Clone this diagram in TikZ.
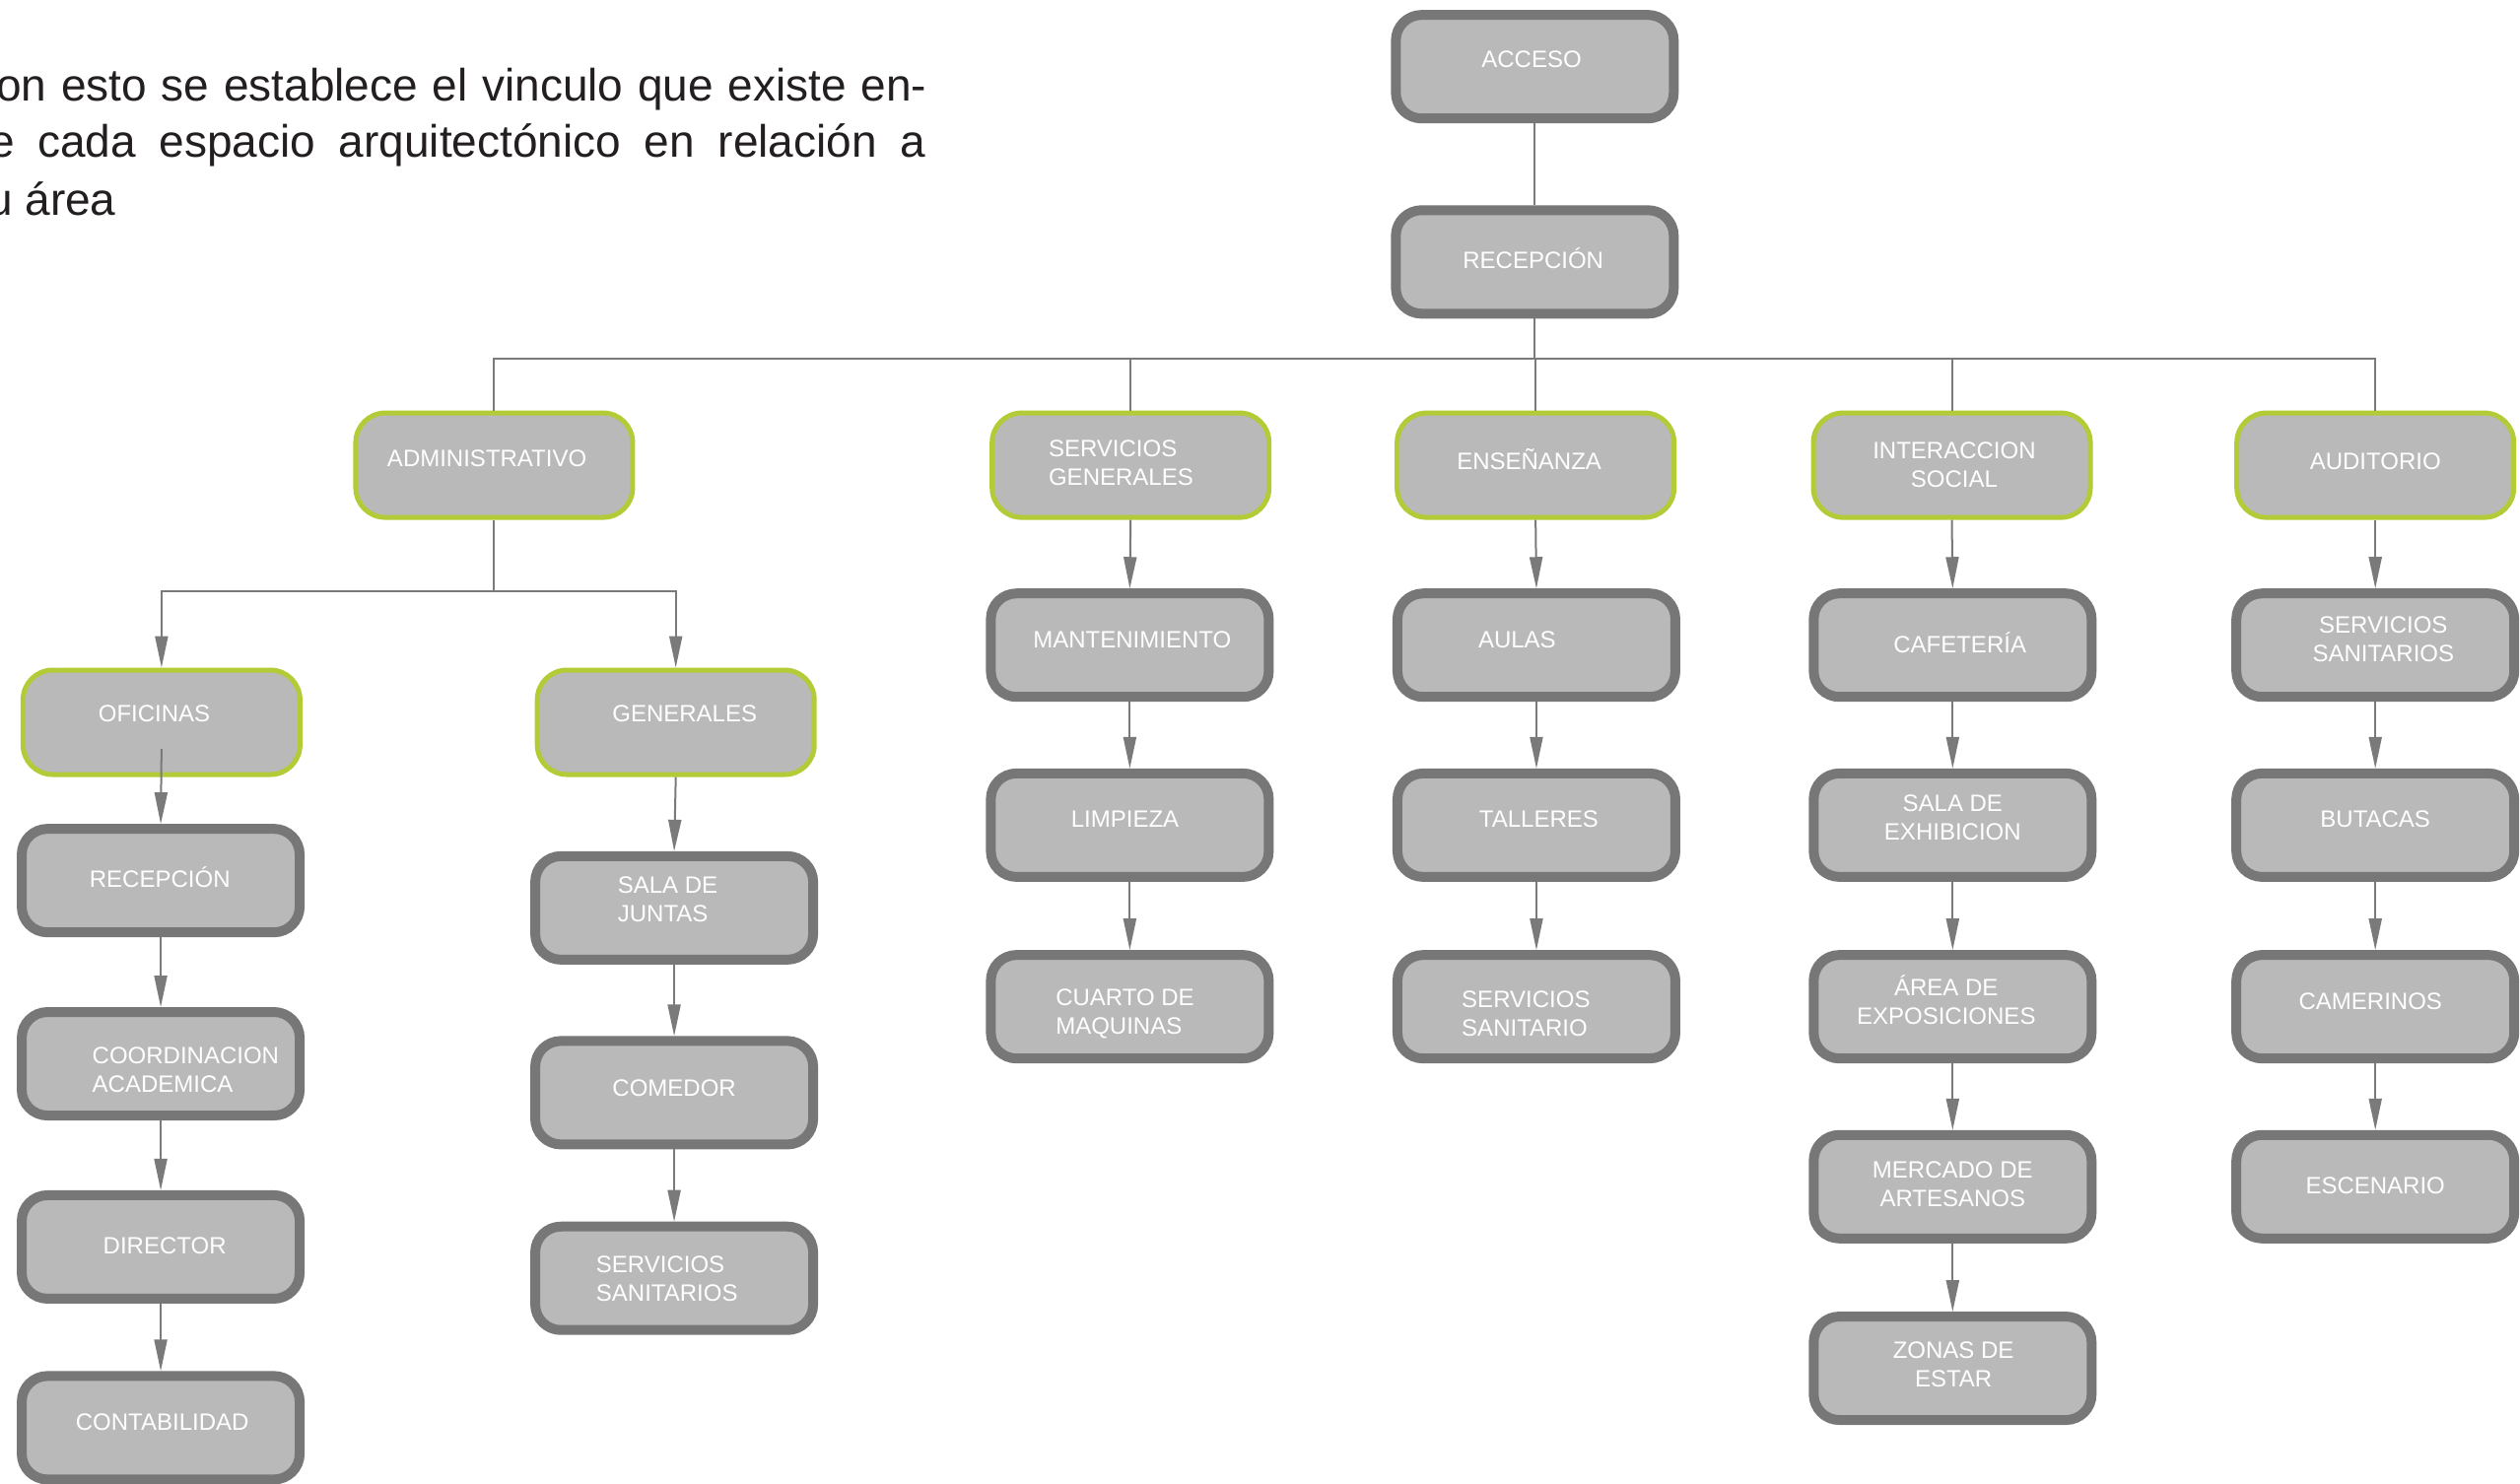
\documentclass[tikz,border=0pt]{standalone}
\usepackage{fontspec}
\setmainfont{Liberation Sans}
\usetikzlibrary{arrows.meta,calc}
\definecolor{boxfill}{HTML}{B9B9B9}
\definecolor{boxline}{HTML}{777777}
\definecolor{greenline}{HTML}{B3CB37}
\definecolor{connc}{HTML}{7A7A7A}
\definecolor{paratext}{HTML}{231F20}
\tikzset{
  graybox/.style={draw=boxline, line width=10pt, fill=boxfill, rounded corners=26pt,
    minimum width=282pt, minimum height=105pt, inner sep=0pt},
  greenbox/.style={draw=greenline, line width=5pt, fill=boxfill, rounded corners=30pt,
    minimum width=281pt, minimum height=106pt, inner sep=0pt},
  lbl/.style={text=white, font=\fontsize{24}{29}\selectfont, inner sep=0pt},
  para/.style={text=paratext, font=\fontsize{46}{57}\selectfont, inner sep=0pt, anchor=base west},
  conn/.style={draw=connc, line width=2pt},
  arr/.style={conn, -{Triangle[length=32pt,width=13pt]}},
  arrg/.style={conn, -{Triangle[length=32pt,width=13pt]}},
}
% style, name, x, y, dx, dy, align, text
\newcommand\bx[8]{%
  \node[#1] (#2) at (#3,#4) {};
  \node[lbl, align=#7] (#2t) at ($(#2.center)+(#5,#6)$) {#8};}
\begin{document}
\begin{tikzpicture}[x=1.6307pt, y=-1.6307pt]
\useasboundingbox (0pt,0pt) rectangle (2557pt,-1505pt);

% paragraph
\node[para] (p1) at (-4pt,-102.7pt) {\makebox[944pt][s]{on esto se establece el vinculo que existe en-}};
\node[para] (p2) at (-11pt,-159pt) {\makebox[950pt][s]{e cada espacio arquitectónico en relación a}};
\node[para] (p3) at (-13pt,-218pt) {u área};

% top
\bx{graybox}{acc}{955}{41.5}{-2}{-4.5}{center}{ACCESO}
\bx{graybox}{rec}{955}{163}{-1}{-2}{center}{RECEPCIÓN}

% level 2
\bx{greenbox}{adm}{307.5}{289.5}{-4.5}{-4.5}{center}{ADMINISTRATIVO}
\bx{greenbox}{sg}{703.5}{289.5}{-6}{-1.5}{left}{SERVICIOS\\GENERALES}
\bx{greenbox}{ens}{955.5}{289.5}{-4}{-3.5}{center}{ENSEÑANZA}
\bx{greenbox}{inte}{1214.5}{289.5}{1.5}{0}{center}{INTERACCION\\SOCIAL}
\bx{greenbox}{aud}{1478}{289.5}{0}{-2.5}{center}{AUDITORIO}

% level 3 (administrativo)
\bx{greenbox}{ofi}{100.5}{449.5}{-4.5}{-5.5}{center}{OFICINAS}
\bx{greenbox}{gen}{420.5}{449.5}{5.5}{-5.5}{center}{GENERALES}

% oficinas column
\bx{graybox}{orec}{100}{548}{-0.5}{-2}{center}{RECEPCIÓN}
\bx{graybox}{ocoo}{100}{662}{15.5}{4}{left}{COORDINACION\\ACADEMICA}
\bx{graybox}{odir}{100}{776}{2.5}{-1}{center}{DIRECTOR}
\bx{graybox}{ocon}{100}{888.5}{1}{-3.5}{center}{CONTABILIDAD}

% generales column
\bx{graybox}{gsal}{419.5}{565}{-4}{-5.5}{left}{SALA DE\\JUNTAS}
\bx{graybox}{gcom}{419.5}{680}{0}{-3}{center}{COMEDOR}
\bx{graybox}{gser}{419.5}{795.5}{-4.5}{0.5}{left}{SERVICIOS\\SANITARIOS}

% servicios generales column
\bx{graybox}{sman}{703}{401.5}{1.5}{-3.5}{center}{MANTENIMIENTO}
\bx{graybox}{slim}{703}{513.5}{-3}{-3.5}{center}{LIMPIEZA}
\bx{graybox}{scua}{703}{626.5}{-3}{4.5}{left}{CUARTO DE\\MAQUINAS}

% enseñanza column
\bx{graybox}{eaul}{956}{401.5}{-12}{-3.5}{center}{AULAS}
\bx{graybox}{etal}{956}{513.5}{1.5}{-3.5}{center}{TALLERES}
\bx{graybox}{eser}{956}{626.5}{-6.5}{4.5}{left}{SERVICIOS\\SANITARIO}

% interaccion social column
\bx{graybox}{icaf}{1215}{401.5}{4.5}{-1.5}{center}{CAFETERÍA}
\bx{graybox}{isal}{1215}{513.5}{0}{-4.5}{center}{SALA DE\\EXHIBICION}
\bx{graybox}{iare}{1215}{626.5}{-4}{-4.5}{center}{ÁREA DE\\EXPOSICIONES}
\bx{graybox}{imer}{1215}{738.5}{0}{-1.5}{center}{MERCADO DE\\ARTESANOS}
\bx{graybox}{izon}{1215}{851.5}{0.5}{-2.5}{center}{ZONAS DE\\ESTAR}

% auditorio column
\bx{graybox}{aser}{1478}{401.5}{5}{-3.5}{center}{SERVICIOS\\SANITARIOS}
\bx{graybox}{abut}{1478}{513.5}{0}{-3.5}{center}{BUTACAS}
\bx{graybox}{acam}{1478}{626.5}{-3}{-3.5}{center}{CAMERINOS}
\bx{graybox}{aesc}{1478}{738.5}{0}{-0.5}{center}{ESCENARIO}

% connectors
\draw[conn] (acc.south) -- (rec.north);
\foreach \n in {adm,sg,ens,inte,aud}
  \draw[conn] (rec.south) -- ++(0,24.7) -| (\n.north);
\draw[arrg] (adm.south) -- ++(0,44.5) -| (ofi.north);
\draw[arrg] (adm.south) -- ++(0,44.5) -| (gen.north);

\draw[arr] ([yshift=-27pt]ofi.center) -- (orec.north);
\draw[arr] (orec.south) -- (ocoo.north);
\draw[arr] (ocoo.south) -- (odir.north);
\draw[arr] (odir.south) -- (ocon.north);

\draw[arr] (gen.south) -- (gsal.north);
\draw[arr] (gsal.south) -- (gcom.north);
\draw[arr] (gcom.south) -- (gser.north);

\draw[arr] (sg.south) -- (sman.north);
\draw[arr] (sman.south) -- (slim.north);
\draw[arr] (slim.south) -- (scua.north);

\draw[arr] (ens.south) -- (eaul.north);
\draw[arr] (eaul.south) -- (etal.north);
\draw[arr] (etal.south) -- (eser.north);

\draw[arr] (inte.south) -- (icaf.north);
\draw[arr] (icaf.south) -- (isal.north);
\draw[arr] (isal.south) -- (iare.north);
\draw[arr] (iare.south) -- (imer.north);
\draw[arr] (imer.south) -- (izon.north);

\draw[arr] (aud.south) -- (aser.north);
\draw[arr] (aser.south) -- (abut.north);
\draw[arr] (abut.south) -- (acam.north);
\draw[arr] (acam.south) -- (aesc.north);
\end{tikzpicture}
\end{document}
